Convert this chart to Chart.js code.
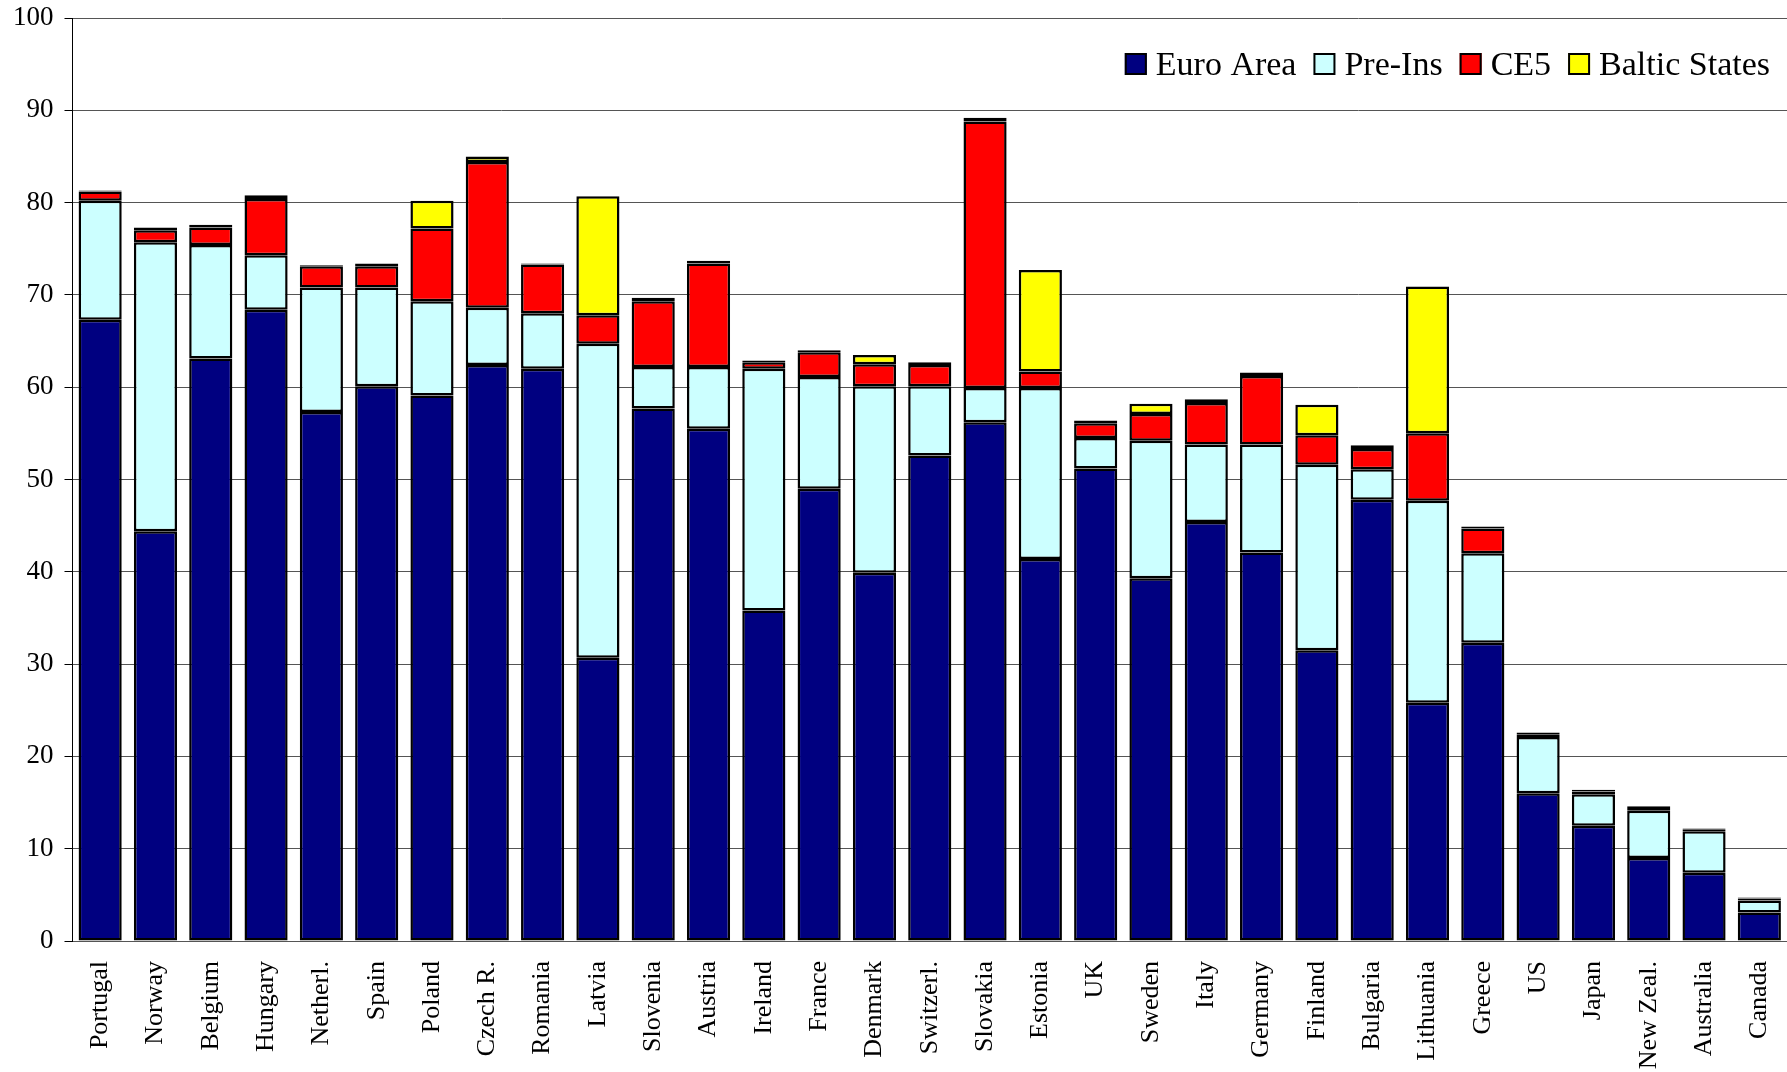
<!DOCTYPE html>
<html>
<head>
<meta charset="utf-8">
<script src="https://cdn.jsdelivr.net/npm/chart.js@4.4.1/dist/chart.umd.min.js"></script>
<style>
	html, body { margin: 0; padding: 0; background: #fff; }
	#wrap { width: 1787px; height: 1072px; }
</style>
</head>
<body>
<div id="wrap"><canvas id="sharesChart" width="1787" height="1072"></canvas></div>
<script>
// Country labels along the x axis
const countries = ["Portugal", "Norway", "Belgium", "Hungary", "Netherl.", "Spain", "Poland", "Czech R.", "Romania", "Latvia",
	"Slovenia", "Austria", "Ireland", "France", "Denmark", "Switzerl.", "Slovakia", "Estonia", "UK", "Sweden",
	"Italy", "Germany", "Finland", "Bulgaria", "Lithuania", "Greece", "US", "Japan", "New Zeal.", "Australia", "Canada"];

// Stacked series (bottom to top)
const euroArea = [67.3, 44.4, 63.1, 68.4, 57.3, 60.1, 59.1, 62.4, 62.0, 30.7, 57.7, 55.5, 35.8, 49.0, 39.9, 52.6, 56.2, 41.4, 51.2, 39.3, 45.4, 42.1, 31.5, 47.8, 25.8, 32.3, 16.0, 12.5, 9.0, 7.4, 3.1];
const preIns = [12.9, 31.3, 12.3, 5.9, 13.5, 10.7, 10.2, 6.2, 6.0, 34.0, 4.5, 6.7, 26.2, 12.1, 20.2, 7.5, 3.7, 18.5, 3.3, 14.9, 8.4, 11.7, 20.1, 3.3, 21.9, 9.7, 6.1, 3.4, 5.1, 4.5, 1.3];
const ce5 = [1.0, 1.3, 1.9, 6.1, 2.3, 2.3, 7.9, 15.8, 5.3, 3.1, 7.1, 11.2, 0.7, 2.7, 2.4, 2.3, 28.9, 1.8, 1.6, 2.9, 4.5, 7.4, 3.2, 2.2, 7.3, 2.7, 0.3, 0.3, 0.3, 0.2, 0.2];
const balticStates = [0.1, 0.3, 0.3, 0.4, 0.1, 0.3, 3.0, 0.6, 0.1, 12.9, 0.4, 0.3, 0.2, 0.2, 1.0, 0.3, 0.4, 11.0, 0.3, 1.1, 0.4, 0.4, 3.3, 0.4, 15.9, 0.2, 0.2, 0.2, 0.2, 0.1, 0.1];

const seriesNames = ["Euro Area", "Pre-Ins", "CE5", "Baltic States"];
const seriesColors = ["#000080", "#CCFFFF", "#FF0000", "#FFFF00"];
const yTicks = [0, 10, 20, 30, 40, 50, 60, 70, 80, 90, 100];

const FONT = "'Liberation Serif', 'Times New Roman', serif";

// Legend drawn inside the plot, top right
const insideLegend = {
	id: "insideLegend",
	afterDraw(chart) {
		const ctx = chart.ctx;
		const area = chart.chartArea;
		const box = 22, gap = 9, itemGap = 17;
		ctx.save();
		ctx.font = "34px " + FONT;
		const items = chart.data.datasets.map(function (ds) {
			return { label: ds.label, color: ds.backgroundColor, w: ctx.measureText(ds.label).width };
		});
		let total = 0;
		items.forEach(function (it, i) {
			total += box + gap + it.w + (i > 0 ? itemGap : 0);
		});
		let x = area.right - 17 - total;
		const boxTop = area.top + 35;
		const baseline = boxTop + box;
		items.forEach(function (it) {
			ctx.fillStyle = it.color;
			ctx.fillRect(x, boxTop, box, box);
			ctx.strokeStyle = "#000";
			ctx.lineWidth = 2;
			ctx.strokeRect(x + 1, boxTop + 1, box - 2, box - 2);
			ctx.fillStyle = "#000";
			ctx.textBaseline = "alphabetic";
			ctx.fillText(it.label, x + box + gap, baseline);
			x += box + gap + it.w + itemGap;
		});
		ctx.restore();
	},
};

const seriesData = [euroArea, preIns, ce5, balticStates];

new Chart(document.getElementById("sharesChart").getContext("2d"), {
	type: "bar",
	data: {
		labels: countries,
		datasets: seriesData.map(function (values, i) {
			return {
				label: seriesNames[i],
				data: values,
				backgroundColor: seriesColors[i],
				borderColor: "#000",
				borderWidth: 2.5,
				borderSkipped: false,
				barPercentage: 0.78,
				categoryPercentage: 1,
			};
		}),
	},
	options: {
		responsive: false,
		animation: false,
		layout: {
			padding: { left: 2, right: 0, top: 18, bottom: 0 },
		},
		plugins: {
			legend: { display: false },
			tooltip: { enabled: false },
		},
		scales: {
			x: {
				stacked: true,
				grid: { display: false, drawTicks: false },
				border: { display: true, color: "#555", width: 1 },
				ticks: {
					color: "#000",
					font: { family: FONT, size: 26 },
					minRotation: 90,
					maxRotation: 90,
					autoSkip: false,
					padding: 20,
				},
				afterFit: function (scale) {
					// keep the plot wide and tall like the original
					scale.height = 131;
					scale.paddingLeft = 0;
					scale.paddingRight = 0;
				},
			},
			y: {
				stacked: true,
				min: 0,
				max: 100,
				afterBuildTicks: function (scale) {
					scale.ticks = yTicks.map(function (v) { return { value: v }; });
				},
				afterFit: function (scale) {
					scale.paddingTop = 0;
					scale.paddingBottom = 0;
				},
				grid: {
					color: "#555",
					lineWidth: 1,
					drawTicks: true,
					tickLength: 8,
					tickColor: "#000",
				},
				border: { display: true, color: "#000", width: 1 },
				ticks: {
					color: "#000",
					font: { family: FONT, size: 27 },
					padding: 11,
				},
			},
		},
	},
	plugins: [insideLegend],
});
</script>
</body>
</html>
